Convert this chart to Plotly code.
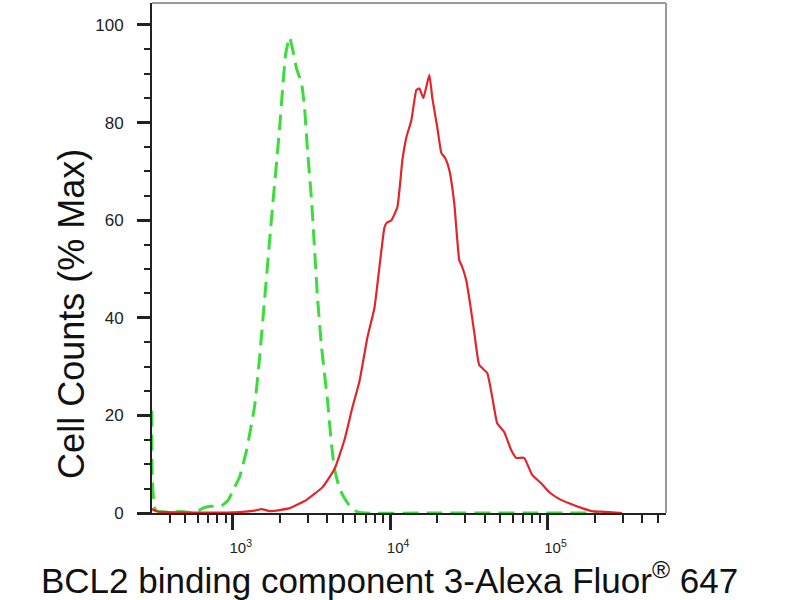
import plotly.graph_objects as go

# Isotype / control (green dashed) - intensity vs % max
green_x = [306, 325, 475, 574, 645, 725, 803, 851, 930, 1000, 1108, 1227, 1379, 1483, 1596,
           1717, 1793, 1901, 1986, 2075, 2168, 2298, 2402, 2546, 2738, 2861, 2990, 3170,
           3311, 3459, 3668, 4003, 4244, 4435, 4771, 5131, 5521, 6113, 6871, 20000, 80000, 212300]
green_y = [21, 0.5, 0.3, 0, 1.0, 1.4, 1.4, 1.5, 2.5, 4.5, 7.5, 13, 22, 32, 44,
           56, 63, 72, 79, 87, 94, 97.5, 95, 91, 88, 83, 74, 64,
           54, 44, 34, 23, 14, 9, 5, 3, 1.5, 0.3, 0, 0, 0, 0]

# BCL2 binding component 3 stained sample (red solid)
red_x = [306, 335, 618, 1108, 1379, 1527, 1717, 1986, 2298, 2946, 3721, 4435, 5131, 5767,
         6388, 7178, 7952, 8551, 9200, 9474, 10190, 11125, 11967, 12686, 13652, 14688,
         15345, 16263, 17754, 18545, 19947, 21148, 22421, 23768, 25559, 27505, 28738,
         30462, 31837, 34246, 36838, 41400, 44539, 47905, 53064, 58786, 63234, 71074,
         79877, 91082, 102355, 118462, 137088, 165805, 191776, 245866, 297231]
red_y = [0.8, 0.3, 0.1, 0.2, 0.5, 0.8, 0.4, 0.6, 1.0, 2.7, 5.3, 9, 15, 21.7,
         27, 36, 42, 50.4, 58.5, 59.4, 60, 62.7, 72.3, 77, 80.5, 86.7,
         87, 85, 89.8, 85, 79, 73.8, 72.7, 70.3, 63.5, 51.8, 50.4,
         47.7, 44, 37, 30.3, 28.7, 23.8, 18.4, 16.6, 12.9, 11.3, 11.3,
         7.8, 6.1, 4.3, 2.9, 2.0, 1.0, 0.4, 0.2, 0]

x_tickvals = [1e3, 1e4, 1e5]
x_ticktext = ["10<sup>3</sup>", "10<sup>4</sup>", "10<sup>5</sup>"]
y_tickvals = [0, 20, 40, 60, 80, 100]

x_title = "BCL2 binding component 3-Alexa Fluor<sup>®</sup> 647"
y_title = "Cell Counts (% Max)"

FONT = "Arial, Liberation Sans, sans-serif"

fig = go.Figure()
fig.add_trace(go.Scatter(x=green_x, y=green_y, mode="lines",
                         line=dict(color="#3ddc3d", width=3, dash="16px,8px",
                                   shape="spline", smoothing=0.4),
                         showlegend=False))
fig.add_trace(go.Scatter(x=red_x, y=red_y, mode="lines",
                         line=dict(color="#e0262a", width=2.2, shape="spline", smoothing=0.4),
                         showlegend=False))

fig.update_layout(
    width=800, height=600,
    margin=dict(l=152, r=134, t=3, b=87),
    paper_bgcolor="white", plot_bgcolor="white",
    font=dict(family=FONT, color="#222"),
    xaxis=dict(type="log", range=[2.487, 5.753], showgrid=False, zeroline=False,
               showline=True, linecolor="#222", linewidth=2,
               tickvals=x_tickvals, ticktext=x_ticktext,
               ticks="outside", ticklen=15, tickwidth=3, tickcolor="#222",
               tickfont=dict(size=15, color="#222"),
               ticklabelstandoff=5, ticklabelshift=8,
               minor=dict(ticks="outside", ticklen=8, tickwidth=1.5, tickcolor="#222", dtick="D1"),
               layer="below traces"),
    yaxis=dict(range=[0, 104.5], showgrid=False, zeroline=False,
               showline=True, linecolor="#222", linewidth=2,
               tickvals=y_tickvals, ticks="outside", ticklen=13, tickwidth=2.5, tickcolor="#222",
               tickfont=dict(size=17, color="#222"),
               ticklabelstandoff=10,
               minor=dict(ticks="outside", ticklen=6, tickwidth=1.5, tickcolor="#222", dtick=5),
               layer="below traces"),
    shapes=[
        dict(type="line", xref="paper", yref="paper", x0=0, x1=1, y0=1, y1=1,
             line=dict(color="#999", width=2)),
        dict(type="line", xref="paper", yref="paper", x0=1, x1=1, y0=0, y1=1,
             line=dict(color="#999", width=2)),
    ],
    annotations=[
        dict(text=x_title, xref="paper", yref="paper", x=0.463, y=-0.1275,
             xanchor="center", yanchor="middle", showarrow=False,
             font=dict(size=35, color="#111", family=FONT)),
        dict(text=y_title, xref="paper", yref="paper", x=-0.158, y=0.39,
             xanchor="center", yanchor="middle", showarrow=False, textangle=-90,
             font=dict(size=36, color="#111", family=FONT)),
    ],
)

fig.write_html("out.html", config={"displayModeBar": False},
               post_script="document.body.style.margin='0';")
